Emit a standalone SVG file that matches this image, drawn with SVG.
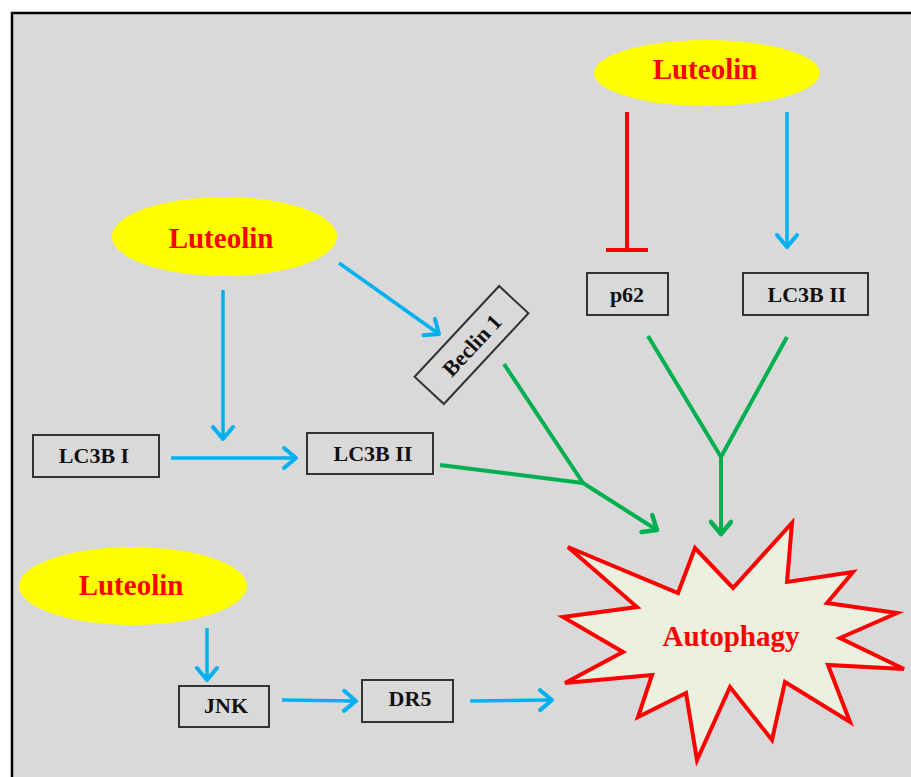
<svg xmlns="http://www.w3.org/2000/svg" width="911" height="777" viewBox="0 0 911 777">
<style>
.bg{fill:#d9d9d9;stroke:none}
.lut{fill:#ffff00;stroke:none}
.lt{font-family:"Liberation Serif",serif;font-weight:bold;font-size:29px;fill:#ff0000;text-anchor:middle}
.box{fill:#d9d9d9;stroke:#333333;stroke-width:2}
.bt{font-family:"Liberation Serif",serif;font-weight:bold;font-size:22px;fill:#111111;text-anchor:middle}
.blue{stroke:#00b0f0;stroke-width:3.5;fill:none;marker-end:url(#ab)}
.green{stroke:#00b050;stroke-width:4;fill:none;stroke-linejoin:round}
.red{stroke:#ff0000;stroke-width:4;fill:none}
</style>
<defs>
<marker id="ab" markerUnits="userSpaceOnUse" markerWidth="30" markerHeight="30" refX="0" refY="0" viewBox="-15 -15 30 30" orient="auto" overflow="visible">
<path d="M-12,-10 L0,0 L-12,10" fill="none" stroke="#00b0f0" stroke-width="4" stroke-linecap="round" stroke-linejoin="round"/>
</marker>
<marker id="ag" markerUnits="userSpaceOnUse" markerWidth="30" markerHeight="30" refX="0" refY="0" viewBox="-15 -15 30 30" orient="auto" overflow="visible">
<path d="M-12,-10 L0,0 L-12,10" fill="none" stroke="#00b050" stroke-width="4.5" stroke-linecap="round" stroke-linejoin="round"/>
</marker>
</defs>
<rect x="0" y="0" width="911" height="777" fill="#ffffff"/>
<rect class="bg" x="12" y="13" width="899" height="764"/>
<path d="M12,777 L12,13 L911,13" fill="none" stroke="#000000" stroke-width="2.5"/>

<g id="luteolin-top">
<ellipse class="lut" cx="707" cy="73" rx="113" ry="33"/>
<text class="lt" x="705" y="79">Luteolin</text>
</g>
<g id="luteolin-mid">
<ellipse class="lut" cx="224.5" cy="236.5" rx="112.5" ry="39.5"/>
<text class="lt" x="221" y="248">Luteolin</text>
</g>
<g id="luteolin-bottom">
<ellipse class="lut" cx="133" cy="586" rx="114" ry="39"/>
<text class="lt" x="131" y="595">Luteolin</text>
</g>

<g id="p62">
<rect class="box" x="587" y="273" width="81" height="42"/>
<text class="bt" x="627" y="302">p62</text>
</g>
<g id="lc3b2-right">
<rect class="box" x="743" y="273" width="125" height="42"/>
<text class="bt" x="807" y="302">LC3B II</text>
</g>
<g id="beclin1">
<g transform="translate(471.5,345) rotate(-47)">
<rect class="box" x="-62" y="-20" width="124" height="40"/>
<text class="bt" x="0" y="8">Beclin 1</text>
</g>
</g>
<g id="lc3b1">
<rect class="box" x="33" y="435" width="126" height="42"/>
<text class="bt" x="94" y="463">LC3B I</text>
</g>
<g id="lc3b2-left">
<rect class="box" x="307" y="433" width="126" height="41"/>
<text class="bt" x="373" y="461">LC3B II</text>
</g>
<g id="jnk">
<rect class="box" x="179" y="686" width="90" height="41"/>
<text class="bt" x="226" y="713">JNK</text>
</g>
<g id="dr5">
<rect class="box" x="362" y="680" width="91" height="42"/>
<text class="bt" x="410" y="706">DR5</text>
</g>
<g id="autophagy">
<polygon points="568,547 678,593 695,548 733,588 792,523 787,582 853,572 827,603 897,613 840,638 904,669 828,665 850,722 785,682 772,740 730,687 697,760 686,693 638,717 652,675 565,683 623,652 563,617 637,607" fill="#ebf1de" stroke="#ff0000" stroke-width="4" stroke-linejoin="miter"/>
<text class="lt" x="731" y="646">Autophagy</text>
</g>

<g id="connectors">
<line class="red" x1="627" y1="112" x2="627" y2="250"/>
<line class="red" x1="606" y1="250" x2="648" y2="250"/>
<line class="blue" x1="787" y1="112" x2="787" y2="247"/>
<line class="blue" x1="339" y1="263" x2="439" y2="334"/>
<line class="blue" x1="223" y1="290" x2="223" y2="439"/>
<line class="blue" x1="171" y1="458" x2="296" y2="458"/>
<line class="blue" x1="207" y1="628" x2="207" y2="680"/>
<line class="blue" x1="282" y1="700" x2="356" y2="701"/>
<line class="blue" x1="470" y1="701" x2="552" y2="700"/>
<polyline class="green" points="504,364 583,483"/>
<polyline class="green" points="440,465 583,483 657,530" marker-end="url(#ag)"/>
<polyline class="green" points="648,336 721,457 787,337"/>
<line class="green" x1="721" y1="457" x2="721" y2="534" marker-end="url(#ag)"/>
</g>
</svg>
